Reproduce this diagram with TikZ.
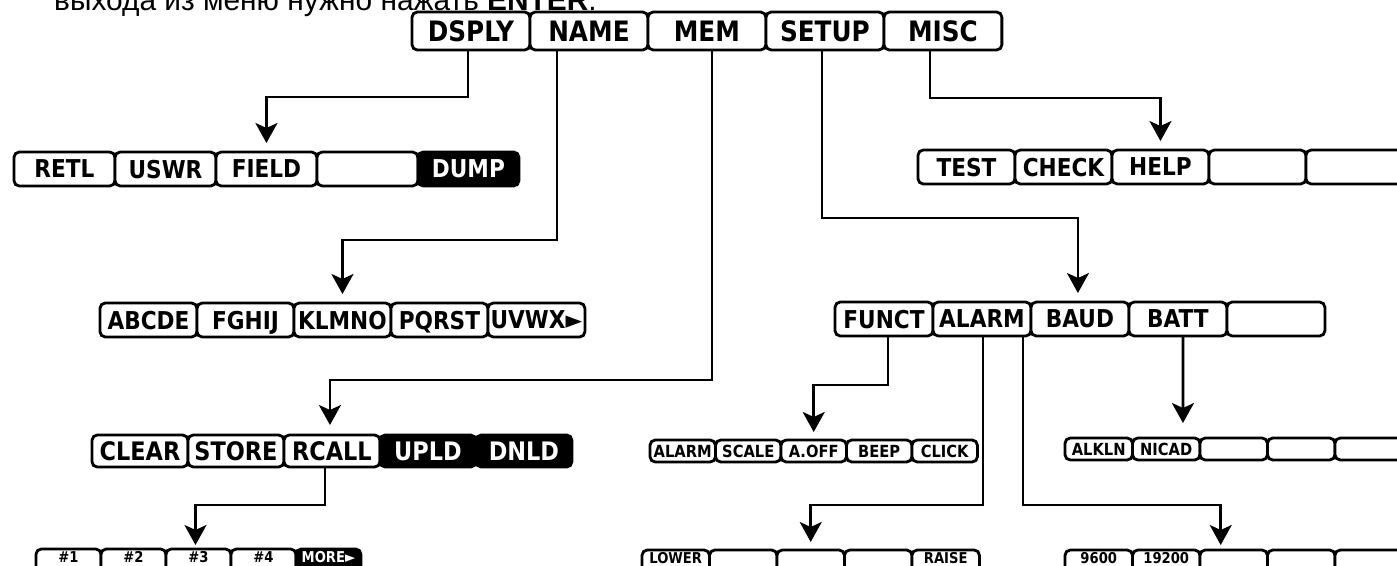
\documentclass[tikz,border=0pt]{standalone}
\usepackage{fontspec}
\setmainfont{Liberation Sans}
\newfontfamily\lcd{DejaVu Sans}[FakeStretch=0.88]
\usetikzlibrary{arrows.meta,positioning,calc}

\begin{document}
\begin{tikzpicture}[x=0.02cm,y=-0.02cm,node distance=0pt,
  key/.style={draw=black,line width=1.6pt,rounded corners=3pt,fill=white,inner sep=0pt,outer sep=0pt,text depth=0pt},
  keyon/.style={key,fill=black,text=white},
  rowA/.style={minimum width=2.36cm,minimum height=0.76cm,font=\lcd\bfseries\fontsize{16}{16}\selectfont},
  rowB/.style={minimum width=2.02cm,minimum height=0.68cm,font=\lcd\bfseries\fontsize{14}{14}\selectfont},
  rowC/.style={minimum width=1.94cm,minimum height=0.68cm,font=\lcd\bfseries\fontsize{14}{14}\selectfont},
  rowD/.style={minimum width=1.92cm,minimum height=0.64cm,font=\lcd\bfseries\fontsize{14.5}{14.5}\selectfont},
  rowE/.style={minimum width=1.33cm,minimum height=0.44cm,font=\lcd\bfseries\fontsize{9.5}{9.5}\selectfont},
  rowF/.style={rowE,minimum height=0.52cm,text height=0.22cm,text depth=0.22cm,font=\lcd\bfseries\fontsize{8.5}{8.5}\selectfont},
  conn/.style={line width=1.5pt,-{Stealth[length=0.4cm,width=0.44cm,inset=0.1cm]}}]
\useasboundingbox (0,0) rectangle (1397,565);

\node[anchor=base west,font=\fontsize{17}{17}\selectfont] (intro) at (48,10) {выхода из меню нужно нажать \textbf{ENTER}.};

% main menu
\node[key,rowA,anchor=west] (dsply) at (412,31) {DSPLY};
\node[key,rowA,right=of dsply] (name) {NAME};
\node[key,rowA,right=of name] (mem) {MEM};
\node[key,rowA,right=of mem] (setup) {SETUP};
\node[key,rowA,right=of setup] (misc) {MISC};

% DSPLY and MISC
\node[key,rowB,anchor=west] (retl) at (14,169) {RETL};
\node[key,rowB,right=of retl] (uswr) {USWR};
\node[key,rowB,right=of uswr] (field) {FIELD};
\node[key,rowB,right=of field] (blankA) {};
\node[keyon,rowB,right=of blankA] (dump) {DUMP};
\node[key,rowC,anchor=west] (test) at (918,167) {TEST};
\node[key,rowC,right=of test] (check) {CHECK};
\node[key,rowC,right=of check] (help) {HELP};
\node[key,rowC,right=of help] (blankB) {};
\node[key,rowC,right=of blankB] (blankC) {};

% NAME and SETUP
\node[key,rowC,anchor=west] (abcde) at (100,320) {ABCDE};
\node[key,rowC,right=of abcde] (fghij) {FGHIJ};
\node[key,rowC,right=of fghij] (klmno) {KLMNO};
\node[key,rowC,right=of klmno] (pqrst) {PQRST};
\node[key,rowC,right=of pqrst] (uvwx) {UVWX►};
\node[key,rowC,minimum width=1.96cm,anchor=west] (funct) at (835,319) {FUNCT};
\node[key,rowC,minimum width=1.96cm,right=of funct] (alarm) {ALARM};
\node[key,rowC,minimum width=1.96cm,right=of alarm] (baud) {BAUD};
\node[key,rowC,minimum width=1.96cm,right=of baud] (batt) {BATT};
\node[key,rowC,minimum width=1.96cm,right=of batt] (blankD) {};

% MEM, FUNCT, BATT
\node[key,rowD,anchor=west] (clear) at (92,451) {CLEAR};
\node[key,rowD,right=of clear] (store) {STORE};
\node[key,rowD,right=of store] (rcall) {RCALL};
\node[keyon,rowD,right=of rcall] (upld) {UPLD};
\node[keyon,rowD,right=of upld] (dnld) {DNLD};
\node[key,rowE,minimum width=1.31cm,anchor=west] (alarmb) at (650,451) {ALARM};
\node[key,rowE,minimum width=1.31cm,right=of alarmb] (scale) {SCALE};
\node[key,rowE,minimum width=1.31cm,right=of scale] (aoff) {A.OFF};
\node[key,rowE,minimum width=1.31cm,right=of aoff] (beep) {BEEP};
\node[key,rowE,minimum width=1.31cm,right=of beep] (click) {CLICK};
\node[key,rowE,minimum width=1.35cm,anchor=west] (alkln) at (1065,449) {ALKLN};
\node[key,rowE,minimum width=1.35cm,right=of alkln] (nicad) {NICAD};
\node[key,rowE,minimum width=1.35cm,right=of nicad] (blankE) {};
\node[key,rowE,minimum width=1.35cm,right=of blankE] (blankF) {};
\node[key,rowE,minimum width=1.35cm,right=of blankF] (blankG) {};

% RCALL, ALARM, BAUD
\node[key,rowF,minimum width=1.30cm,anchor=west] (one) at (36,562) {\#1};
\node[key,rowF,minimum width=1.30cm,right=of one] (two) {\#2};
\node[key,rowF,minimum width=1.30cm,right=of two] (three) {\#3};
\node[key,rowF,minimum width=1.30cm,right=of three] (four) {\#4};
\node[keyon,rowF,minimum width=1.30cm,right=of four] (more) {MORE►};
\node[key,rowF,minimum width=1.35cm,anchor=west] (lower) at (642,563) {LOWER};
\node[key,rowF,minimum width=1.35cm,right=of lower] (blankH) {};
\node[key,rowF,minimum width=1.35cm,right=of blankH] (blankI) {};
\node[key,rowF,minimum width=1.35cm,right=of blankI] (blankJ) {};
\node[key,rowF,minimum width=1.35cm,right=of blankJ] (raise) {RAISE};
\node[key,rowF,minimum width=1.35cm,anchor=west] (nine) at (1065,563) {9600};
\node[key,rowF,minimum width=1.35cm,right=of nine] (nineteen) {19200};
\node[key,rowF,minimum width=1.35cm,right=of nineteen] (blankK) {};
\node[key,rowF,minimum width=1.35cm,right=of blankK] (blankL) {};
\node[key,rowF,minimum width=1.35cm,right=of blankL] (blankM) {};

% connectors
\draw[conn] ($(dsply.south)+(-3,0)$) -- ++(0,47) -| ($(field.north)+(0,-9)$);
\draw[conn] ($(misc.south)+(-13,0)$) -- ++(0,48) -| ($(help.north)+(0,-9)$);
\draw[conn] ($(name.south)+(-32,0)$) -- ++(0,190) -| ($(klmno.north)+(0,-9)$);
\draw[conn] ($(setup.south)+(-3,0)$) -- ++(0,168) -| ($(baud.north)+(-2,-9)$);
\draw[conn] ($(mem.south)+(5,0)$) -- ++(0,330) -| ($(rcall.north)+(-2,-10)$);
\draw[conn] ($(rcall.south)+(-7,0)$) -- ++(0,38) -| ($(three.north)+(-3,-4)$);
\draw[conn] ($(funct.south)+(4,0)$) -- ++(0,49) -| ($(aoff.north)+(0,-8)$);
\draw[conn] ($(alarm.south)+(1,0)$) -- ++(0,169) -| ($(blankI.north)+(0,-8)$);
\draw[conn] ($(baud.south)+(-57,0)$) -- ++(0,169) -| ($(blankK.north)+(-13,-5)$);
\draw[conn] ($(batt.south)+(5,0)$) -- ($(nicad.north east)+(-17,-15)$);
\end{tikzpicture}
\end{document}
